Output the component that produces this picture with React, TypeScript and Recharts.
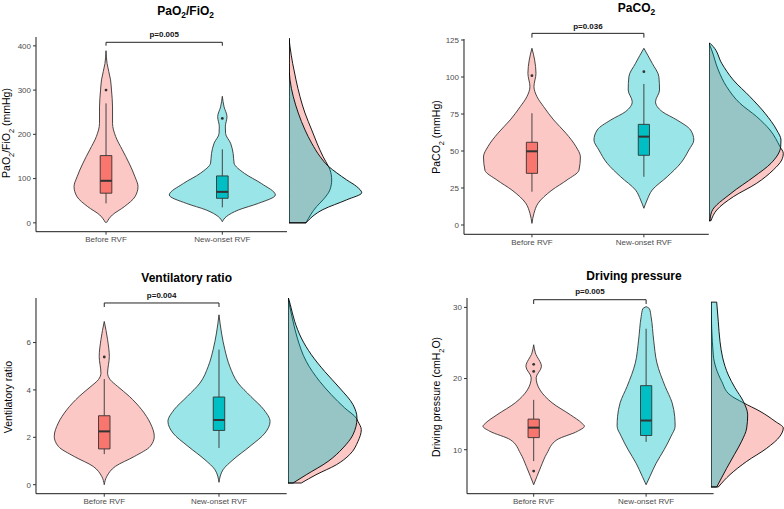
import React from "react";
import {
  Area,
  ComposedChart,
  ReferenceArea,
  ReferenceDot,
  ReferenceLine,
  XAxis,
  YAxis
} from "recharts";

const PINK = "#F8766D";
const CYAN = "#00BFC4";
const FONT = "'Liberation Sans', Arial, Helvetica, sans-serif";

const groups = ["Before RVF", "New-onset RVF"];

// violin outlines: [value, half width in x-axis units]
const pfBefore = [[0.3, 0.004], [17.7, 0.054], [36.5, 0.157], [59, 0.249], [82, 0.275], [104, 0.249], [135, 0.198], [165, 0.14], [195, 0.083], [225, 0.056], [262, 0.056], [300, 0.047], [323, 0.039], [360, 0.009], [389, 0]];
const pfNew = [[2.6, 0], [14, 0.034], [29, 0.138], [44, 0.31], [63, 0.456], [89, 0.335], [112, 0.189], [135, 0.101], [157, 0.093], [180, 0.071], [202, 0.028], [217, 0.026], [240, 0.04], [262, 0.015], [286, 0]];
const co2Before = [[1.1, 0], [7.9, 0.018], [14.7, 0.055], [23.6, 0.179], [30.4, 0.313], [37, 0.42], [46, 0.433], [53, 0.393], [62, 0.304], [71, 0.194], [80, 0.104], [86.7, 0.045], [93.5, 0.018], [102.5, 0.036], [111.5, 0.024], [119.4, 0]];
const co2New = [[11.3, 0], [16.9, 0.029], [23.6, 0.074], [32.6, 0.208], [41.7, 0.328], [50.7, 0.402], [57.4, 0.446], [64.2, 0.417], [71, 0.295], [76.6, 0.164], [83.3, 0.104], [91.2, 0.14], [100.2, 0.134], [109.3, 0.074], [119.4, 0]];
const vrBefore = [[0, 0], [0.35, 0.022], [0.77, 0.096], [1.19, 0.262], [1.62, 0.401], [2.04, 0.436], [2.6, 0.401], [3.16, 0.327], [3.73, 0.218], [4.15, 0.116], [4.43, 0.052], [4.71, 0.029], [5.41, 0.044], [6.12, 0.029], [6.89, 0]];
const vrNew = [[0.1, 0], [0.63, 0.035], [1.05, 0.122], [1.62, 0.27], [2.18, 0.401], [2.67, 0.445], [3.16, 0.392], [3.73, 0.276], [4.29, 0.166], [4.99, 0.094], [5.7, 0.051], [6.4, 0.022], [7.17, 0]];
const dpBefore = [[5.08, 0], [6.25, 0.029], [7.65, 0.065], [9.5, 0.118], [11.4, 0.207], [12.6, 0.391], [13.3, 0.451], [13.75, 0.427], [14.9, 0.327], [16.6, 0.163], [18.4, 0.056], [20.1, 0.022], [21.7, 0.069], [23.6, 0.015], [24.75, 0]];
const dpNew = [[5.08, 0], [6.25, 0.034], [8.1, 0.089], [10, 0.16], [11.9, 0.222], [13.3, 0.258], [14.7, 0.254], [16.6, 0.231], [18.9, 0.169], [22.2, 0.096], [25.4, 0.067], [28.7, 0.044], [29.8, 0.03], [30.1, 0]];

// box stats: [lower whisker, q1, median, q3, upper whisker]
const pfBox = [[44, 67, 95, 152, 270], [35, 55.5, 70, 106, 166]];
const co2Box = [[22.5, 34.9, 49.8, 55.9, 75.5], [32.6, 47.1, 59.7, 68, 95.3]];
const vrBox = [[1.29, 1.51, 2.25, 2.91, 4.46], [1.55, 2.29, 2.73, 3.7, 5.7]];
const dpBox = [[8.4, 11.7, 13.1, 14.3, 17], [11.1, 12, 14.1, 19, 27]];

const pfOut = [[300], [236]];
const co2Out = [[100.9], [103.6]];
const vrOut = [[5.39], []];
const dpOut = [[22, 21, 7], []];

// marginal densities: [value, density]
const pfMargBefore = [[0, 17], [37, 27.7], [52, 34], [75, 41], [97, 42.7], [120, 41], [128, 39.3], [150, 34], [180, 28], [210, 22.7], [248, 16], [285, 11], [323, 7], [360, 3.7], [398, 1], [417, 0]];
const pfMargNew = [[0, 17], [30, 34], [52, 57.7], [68, 72.7], [82, 67.7], [97, 57.7], [113, 47.7], [128, 39.3], [150, 31], [180, 22.7], [210, 16], [248, 9.3], [285, 4.3], [323, 1], [360, 0], [417, 0]];
const co2MargBefore = [[2.9, 2], [10.1, 7.7], [19.1, 24.3], [28.2, 47.7], [37.2, 64.3], [43.9, 72.7], [48.4, 74.3], [52.9, 71], [64.2, 61], [73.2, 47.7], [82.2, 31], [93.4, 17.7], [104.7, 9.3], [118.2, 2.7], [122.8, 0]];
const co2MargNew = [[2.9, 1], [9, 2.7], [21.4, 22], [32.6, 45], [41.7, 62], [52.9, 71.7], [57.4, 72], [64.2, 67.7], [75.5, 56], [86.7, 41], [98, 24.3], [109.3, 12.7], [120.5, 4.3], [122.8, 1]];
const vrMargBefore = [[0.07, 13.3], [0.42, 28], [0.84, 48.3], [1.27, 61.7], [1.83, 70], [2.32, 73.3], [2.67, 70], [2.81, 68.3], [3.24, 56.7], [3.8, 43.3], [4.36, 31.7], [5.2, 18.3], [6.19, 9.3], [7.03, 4.3], [7.9, 0]];
const vrMargNew = [[0.07, 5], [0.42, 18.3], [0.98, 40], [1.55, 55], [2.11, 65], [2.81, 69], [3.38, 65], [4.08, 51.7], [4.78, 36.7], [5.49, 23.3], [6.19, 13.3], [6.89, 6.7], [7.6, 2.3], [7.9, 0.3]];
const dpMargBefore = [[4.76, 7.3], [6.5, 19], [8.36, 35.7], [10.2, 55.7], [11.9, 69], [13.05, 72.3], [14, 64], [15.4, 49], [16.6, 32.3], [17.7, 19], [19.6, 10.7], [23.3, 2.3], [30.74, 0]];
const dpMargNew = [[4.76, 5.7], [7.4, 15.7], [9.3, 23.3], [11.2, 30.7], [13.05, 35.7], [14.9, 36.7], [16.8, 32.3], [18.7, 24], [20.5, 17.3], [22.9, 11.7], [25.2, 9], [28, 7.3], [30.74, 5.7]];

const pfTicks = [0, 100, 200, 300, 400];
const co2Ticks = [0, 25, 50, 75, 100, 125];
const vrTicks = [0, 2, 4, 6];
const dpTicks = [10, 20, 30];

const AXW = 34;
const AXH = 20;
const TOP = 28;
const RIGHT = 2;

type PanelProps = {
  title: React.ReactNode;
  titlePos: [number, number];
  yLabel: React.ReactNode;
  yLabelPos: [number, number];
  plot: [number, number, number, number];
  xDomain: [number, number];
  yDomain: [number, number];
  yTicks: number[];
  violins: number[][][];
  boxes: number[][];
  outliers: number[][];
  bracket: [number, number];
  pLabel: string;
  pOffset: number;
  marg: [number, number];
  margMax: number;
  margins: number[][][];
};

function Panel(p: PanelProps) {
  const [x0, y0, x1, y1] = p.plot;
  const w = x1 - x0;
  const h = y1 - y0;
  const tick = { fontSize: 8, fill: "#4D4D4D", fontFamily: FONT };
  const [bTop, bEnd] = p.bracket;
  const bw = 0.05;
  return (
    <>
      <div
        style={{
          position: "absolute",
          left: p.titlePos[0],
          top: p.titlePos[1],
          transform: "translate(-50%,-50%)",
          fontWeight: 700,
          fontSize: 12,
          whiteSpace: "nowrap"
        }}
      >
        {p.title}
      </div>
      <div
        style={{
          position: "absolute",
          left: p.yLabelPos[0],
          top: p.yLabelPos[1],
          transform: "translate(-50%,-50%) rotate(-90deg)",
          fontSize: 10.5,
          whiteSpace: "nowrap"
        }}
      >
        {p.yLabel}
      </div>
      <div style={{ position: "absolute", left: x0 - AXW, top: y0 - TOP }}>
        <ComposedChart
          layout="vertical"
          width={w + AXW + RIGHT}
          height={h + TOP + AXH}
          margin={{ top: TOP, right: RIGHT, bottom: 0, left: 0 }}
        >
          <XAxis
            type="number"
            domain={p.xDomain}
            ticks={[1, 2]}
            interval={0}
            allowDataOverflow
            tickFormatter={(v: number) => groups[v - 1]}
            height={AXH}
            tick={tick}
            tickSize={3}
            axisLine={{ stroke: "#1a1a1a", strokeWidth: 1 }}
            tickLine={{ stroke: "#333" }}
          />
          <YAxis
            type="number"
            dataKey="v"
            domain={p.yDomain}
            ticks={p.yTicks}
            interval={0}
            allowDataOverflow
            reversed
            width={AXW}
            tick={tick}
            tickSize={3}
            axisLine={{ stroke: "#1a1a1a", strokeWidth: 1 }}
            tickLine={{ stroke: "#333" }}
          />
          {p.violins.map((pts, i) => (
            <Area
              key={"v" + i}
              data={pts.map(([v, hw]) => ({ v, r: [i + 1 - hw, i + 1 + hw] }))}
              dataKey="r"
              type="monotone"
              stroke="#333"
              strokeWidth={0.9}
              fill={i ? CYAN : PINK}
              fillOpacity={0.4}
              dot={false}
              activeDot={false}
              isAnimationActive={false}
            />
          ))}
          {p.boxes.map((b, i) => (
            <ReferenceLine
              key={"wl" + i}
              segment={[{ x: i + 1, y: b[0] }, { x: i + 1, y: b[1] }]}
              stroke="#333"
              strokeWidth={0.9}
            />
          ))}
          {p.boxes.map((b, i) => (
            <ReferenceLine
              key={"wh" + i}
              segment={[{ x: i + 1, y: b[3] }, { x: i + 1, y: b[4] }]}
              stroke="#333"
              strokeWidth={0.9}
            />
          ))}
          {p.boxes.map((b, i) => (
            <ReferenceArea
              key={"b" + i}
              x1={i + 1 - bw}
              x2={i + 1 + bw}
              y1={b[1]}
              y2={b[3]}
              fill={i ? CYAN : PINK}
              fillOpacity={1}
              stroke="#333"
              strokeWidth={0.9}
            />
          ))}
          {p.boxes.map((b, i) => (
            <ReferenceLine
              key={"m" + i}
              segment={[{ x: i + 1 - bw, y: b[2] }, { x: i + 1 + bw, y: b[2] }]}
              stroke="#333"
              strokeWidth={2}
            />
          ))}
          {p.outliers.map((vals, i) =>
            vals.map((v, j) => (
              <ReferenceDot key={"o" + i + j} x={i + 1} y={v} r={1.4} fill="#333" stroke="none" />
            ))
          )}
          <ReferenceLine
            segment={[{ x: 1, y: bTop }, { x: 2, y: bTop }]}
            stroke="#222"
            strokeWidth={1}
            ifOverflow="visible"
            label={{
              value: p.pLabel,
              position: "top",
              offset: p.pOffset,
              fontSize: 8,
              fontWeight: 700,
              fill: "#111",
              fontFamily: FONT
            }}
          />
          <ReferenceLine segment={[{ x: 1, y: bTop }, { x: 1, y: bEnd }]} stroke="#222" strokeWidth={1} ifOverflow="visible" />
          <ReferenceLine segment={[{ x: 2, y: bTop }, { x: 2, y: bEnd }]} stroke="#222" strokeWidth={1} ifOverflow="visible" />
        </ComposedChart>
      </div>
      <div style={{ position: "absolute", left: p.marg[0], top: y0 }}>
        <ComposedChart
          layout="vertical"
          width={p.marg[1] - p.marg[0]}
          height={h}
          margin={{ top: 0, right: 0, bottom: 0, left: 0 }}
          style={{ overflow: "visible" }}
        >
          <XAxis type="number" hide domain={[0, p.margMax]} allowDataOverflow />
          <YAxis type="number" hide dataKey="v" domain={p.yDomain} allowDataOverflow reversed />
          {p.margins.map((pts, i) => (
            <Area
              key={"d" + i}
              data={pts.map(([v, d]) => ({ v, r: [0, d] }))}
              dataKey="r"
              type="monotone"
              stroke="#000"
              strokeWidth={0.9}
              fill={i ? CYAN : PINK}
              fillOpacity={0.4}
              dot={false}
              activeDot={false}
              isAnimationActive={false}
            />
          ))}
          {p.margins.map((pts, i) => (
            <ReferenceLine
              key={"e0" + i}
              segment={[{ x: 0, y: pts[0][0] }, { x: pts[0][1], y: pts[0][0] }]}
              stroke="#000"
              strokeWidth={0.9}
              ifOverflow="visible"
            />
          ))}
          {p.margins.map((pts, i) => (
            <ReferenceLine
              key={"e1" + i}
              segment={[
                { x: 0, y: pts[pts.length - 1][0] },
                { x: pts[pts.length - 1][1], y: pts[pts.length - 1][0] }
              ]}
              stroke="#000"
              strokeWidth={0.9}
              ifOverflow="visible"
            />
          ))}
        </ComposedChart>
      </div>
    </>
  );
}

const sub2 = <sub style={{ fontSize: "0.7em" }}>2</sub>;

export default function App() {
  return (
    <div
      style={{
        position: "absolute",
        left: 0,
        top: 0,
        width: 784,
        height: 509,
        background: "#fff",
        fontFamily: FONT,
        color: "#000"
      }}
    >
      <Panel
        title={<span>PaO{sub2}/FiO{sub2}</span>}
        titlePos={[185.7, 11.5]}
        yLabel={<span>PaO{sub2}/FiO{sub2} (mmHg)</span>}
        yLabelPos={[7.5, 133]}
        plot={[36, 37, 287, 231.7]}
        xDomain={[0.398, 2.556]}
        yDomain={[-20, 420]}
        yTicks={pfTicks}
        violins={[pfBefore, pfNew]}
        boxes={pfBox}
        outliers={pfOut}
        bracket={[408, 400.3]}
        pLabel="p=0.005"
        pOffset={5}
        marg={[289, 366]}
        margMax={77}
        margins={[pfMargBefore, pfMargNew]}
      />
      <Panel
        title={<span>PaCO{sub2}</span>}
        titlePos={[636.5, 8.7]}
        yLabel={<span>PaCO{sub2} (mmHg)</span>}
        yLabelPos={[438.3, 136.5]}
        plot={[463.5, 39, 708.3, 234.3]}
        xDomain={[0.393, 2.58]}
        yDomain={[-6.28, 125.68]}
        yTicks={co2Ticks}
        violins={[co2Before, co2New]}
        boxes={co2Box}
        outliers={co2Out}
        bracket={[129.5, 126.6]}
        pLabel="p=0.036"
        pOffset={4.3}
        marg={[709, 784]}
        margMax={75}
        margins={[co2MargBefore, co2MargNew]}
      />
      <Panel
        title={<span>Ventilatory ratio</span>}
        titlePos={[186.7, 277.7]}
        yLabel={<span>Ventilatory ratio</span>}
        yLabelPos={[7.5, 396.5]}
        plot={[36, 298.3, 286.7, 494]}
        xDomain={[0.405, 2.59]}
        yDomain={[-0.38, 7.88]}
        yTicks={vrTicks}
        violins={[vrBefore, vrNew]}
        boxes={vrBox}
        outliers={vrOut}
        bracket={[7.67, 7.5]}
        pLabel="p=0.004"
        pOffset={4.8}
        marg={[288.3, 365.3]}
        margMax={77}
        margins={[vrMargBefore, vrMargNew]}
      />
      <Panel
        title={<span>Driving pressure</span>}
        titlePos={[634, 275.7]}
        yLabel={<span>Driving pressure (cmH{sub2}O)</span>}
        yLabelPos={[438.3, 396.7]}
        plot={[466.7, 298.3, 713.3, 494]}
        xDomain={[0.407, 2.6]}
        yDomain={[3.82, 31.32]}
        yTicks={dpTicks}
        violins={[dpBefore, dpNew]}
        boxes={dpBox}
        outliers={dpOut}
        bracket={[31.08, 30.48]}
        pLabel="p=0.005"
        pOffset={5.5}
        marg={[711, 784]}
        margMax={73}
        margins={[dpMargBefore, dpMargNew]}
      />
    </div>
  );
}
